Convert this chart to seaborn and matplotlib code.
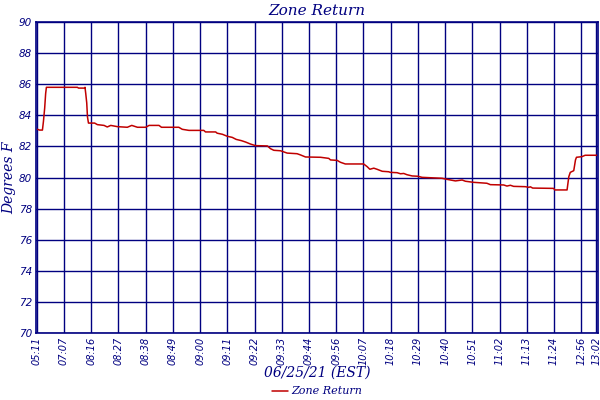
import numpy as np
import pandas as pd
import matplotlib
matplotlib.use("Agg")
import matplotlib.pyplot as plt
import seaborn as sns

# sample index (minutes of logged samples) and temperature
minutes = [0.3, 1.1, 2.3, 2.7, 3.2, 3.6, 3.9, 16.4, 16.9, 19.4, 19.5, 19.8, 20.2, 20.5, 20.9,
           23.4, 24.5, 27.2, 28.5, 29.9, 32.6, 36.6, 38.4, 40.7, 44.0, 45.4, 49.4, 50.4, 57.4,
           58.8, 61.5, 67.5, 68.2, 72.3, 72.9, 75.0, 77.0, 79.0, 80.6, 82.7, 84.4, 86.4, 88.4,
           93.2, 94.5, 95.8, 98.5, 101.2, 105.2, 106.6, 108.6, 114.7, 118.0, 118.7, 121.4,
           122.7, 124.7, 132.1, 133.5, 134.6, 136.2, 137.5, 139.6, 142.2, 142.9, 145.6, 147.0,
           148.3, 149.6, 151.7, 154.0, 155.7, 163.8, 165.8, 169.2, 171.9, 173.2, 176.5, 181.9,
           183.3, 188.7, 190.0, 191.4, 192.7, 197.4, 198.8, 199.5, 200.4, 208.9, 209.3, 214.3,
           215.0, 215.6, 217.0, 217.7, 218.1, 220.3, 221.6, 226.4]
temps = [83.10, 83.05, 83.05, 83.6, 84.45, 85.4, 85.8, 85.8, 85.75, 85.75, 85.8, 85.4, 84.8, 83.9, 83.5,
         83.5, 83.4, 83.35, 83.25, 83.35, 83.27, 83.23, 83.35, 83.23, 83.23, 83.35, 83.35, 83.23, 83.23,
         83.1, 83.03, 83.03, 82.93, 82.93, 82.85, 82.78, 82.65, 82.58, 82.45, 82.37, 82.28, 82.15, 82.05,
         82.03, 81.85, 81.75, 81.72, 81.57, 81.53, 81.45, 81.32, 81.30, 81.23, 81.13, 81.10,
         80.98, 80.87, 80.87, 80.70, 80.53, 80.60, 80.53, 80.40, 80.37, 80.33, 80.31, 80.24,
         80.26, 80.18, 80.10, 80.08, 80.01, 79.95, 79.88, 79.78, 79.84, 79.76, 79.69, 79.63,
         79.54, 79.52, 79.45, 79.50, 79.43, 79.41, 79.37, 79.40, 79.32, 79.30, 79.20, 79.20,
         80.05, 80.33, 80.44, 81.13, 81.30, 81.34, 81.43, 81.43]

tick_labels = ["05:11", "07:07", "08:16", "08:27", "08:38", "08:49", "09:00", "09:11", "09:22",
               "09:33", "09:44", "09:56", "10:07", "10:18", "10:29", "10:40", "10:51", "11:02",
               "11:13", "11:24", "12:56", "13:02"]
tick_pos = [0, 11, 22, 33, 44, 55, 66, 77, 88, 99, 110, 121, 132, 143, 154, 165, 176, 187,
            198, 209, 220, 226]
y_ticks = [70, 72, 74, 76, 78, 80, 82, 84, 86, 88, 90]

df = pd.DataFrame({"minute": minutes, "temp": temps, "series": "Zone Return"})

sns.set_style("white")
plt.rcParams['font.family'] = ['DejaVu Serif', 'DejaVu Sans']

navy = "#000080"
red = "#c00000"

fig = plt.figure(figsize=(6, 4), dpi=100)
ax = fig.add_axes([36/600, 1-333/400, 562/600, 311/400])

sns.lineplot(data=df, x="minute", y="temp", hue="series", palette=[red], ax=ax,
             linewidth=1.1, legend=True)

ax.set_xlim(-0.3, 226.8)
ax.set_ylim(70, 90)
ax.set_xticks(tick_pos)
ax.set_xticklabels(tick_labels, rotation=90, fontsize=7, style="italic", color=navy,
                   family="DejaVu Sans")
ax.set_yticks(y_ticks)
ax.set_yticklabels([str(v) for v in y_ticks], fontsize=7.5, style="italic", color=navy,
                   family="DejaVu Sans")
ax.tick_params(axis="both", length=0, pad=3)
ax.grid(True, color=navy, linewidth=1.0)
ax.set_axisbelow(True)
for s in ax.spines.values():
    s.set_color(navy)
    s.set_linewidth(1.2)

ax.set_title("Zone Return", fontsize=11, style="italic", color=navy, pad=5)
ax.set_ylabel("Degrees F", fontsize=10, style="italic", color=navy, labelpad=2)
ax.set_xlabel("06/25/21 (EST)", fontsize=10, style="italic", color=navy, labelpad=0)

leg = ax.legend(loc="center", bbox_to_anchor=(0.5, -0.188), frameon=False,
                handlelength=1.5, handletextpad=0.3,
                prop={"style": "italic", "size": 8})
for t in leg.get_texts():
    t.set_color(navy)

fig.savefig("out.png", dpi=100)
